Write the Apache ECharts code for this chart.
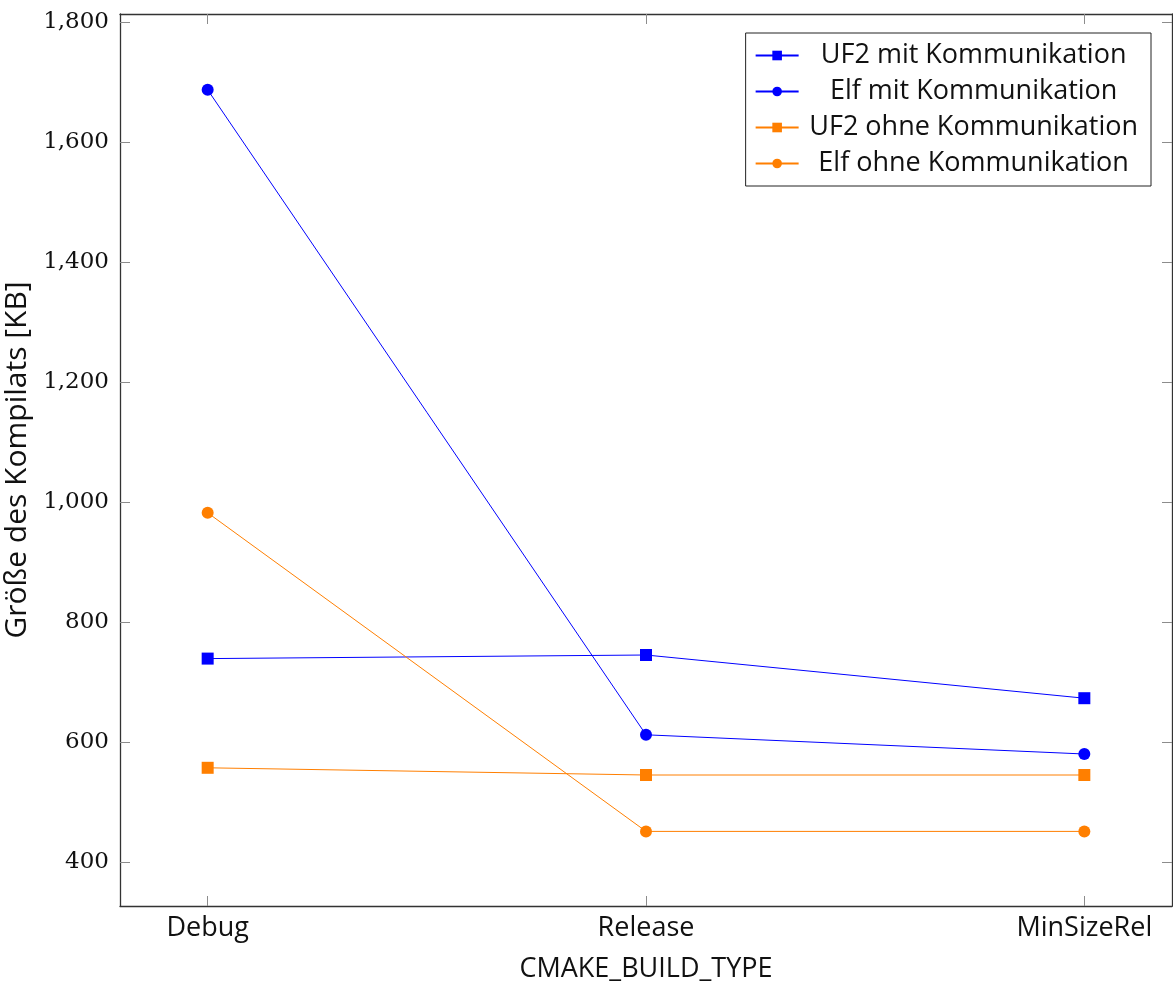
<!DOCTYPE html>
<html lang="de">
<head>
    <meta charset="UTF-8">
    <title>Kompilatgröße</title>
    <script src="https://cdn.jsdelivr.net/npm/echarts@6/dist/echarts.min.js"></script>
    <style>
        html, body {margin: 0; padding: 0; background: #fff;}
        #main {width: 1173px; height: 981px;}
    </style>
</head>
<body>
<div id="main"></div>
<script>
    // Daten
    var buildTypes = ['Debug', 'Release', 'MinSizeRel'];
    var uf2Mit = [739, 745, 673];
    var elfMit = [1687, 612, 580];
    var uf2Ohne = [557, 545, 545];
    var elfOhne = [982, 451, 451];
    var yTicks = [400, 600, 800, 1000, 1200, 1400, 1600, 1800];

    var blue = '#0000ff';
    var orange = '#ff7f00';
    var tickColor = '#8c8c8c';
    var sans = '"Open Sans", "Noto Sans", sans-serif';
    var serif = '"DejaVu Serif", "Liberation Serif", serif';

    function pairs(vals) {
        return vals.map(function (v, i) { return [i, v]; });
    }

    function fmt(v) {
        return String(v).replace(/\B(?=(\d{3})+(?!\d))/g, ',');
    }

    function mkSeries(name, vals, color, symbol) {
        return {
            name: name,
            type: 'line',
            data: pairs(vals),
            symbol: symbol,
            symbolSize: 12,
            showSymbol: true,
            lineStyle: {color: color, width: 1},
            itemStyle: {color: color},
            emphasis: {disabled: true},
            animation: false
        };
    }

    var xMin = -0.2, xMax = 2.2;
    var yMin = 400 - 44 / 0.6, yMax = 1800 + 8 / 0.6;

    function frameAxis(extra) {
        var base = {
            type: 'value',
            splitLine: {show: false},
            axisLine: {show: true, onZero: false, lineStyle: {color: '#333', width: 1.3}},
            axisTick: {show: true, inside: true, length: 10, lineStyle: {color: tickColor}},
            axisLabel: {show: false}
        };
        for (var k in extra) base[k] = extra[k];
        return base;
    }

    var myChart = echarts.init(document.getElementById('main'));
    var option = {
        animation: false,
        grid: {left: 120, right: 1, top: 14, bottom: 75, show: false, outerBoundsMode: 'none', containLabel: false},
        legend: {
            right: 22,
            top: 33,
            orient: 'vertical',
            itemWidth: 43,
            itemHeight: 12,
            itemGap: 9,
            padding: [9, 13, 9, 9],
            borderColor: '#222',
            borderWidth: 1,
            backgroundColor: '#fff',
            formatter: function (name) { return '{c|' + name + '}'; },
            textStyle: {
                fontFamily: sans, fontSize: 27, color: '#111',
                rich: {c: {fontFamily: sans, fontSize: 27, color: '#111', width: 340, align: 'center'}}
            },
            data: ['UF2 mit Kommunikation', 'Elf mit Kommunikation', 'UF2 ohne Kommunikation', 'Elf ohne Kommunikation']
        },
        xAxis: [frameAxis({
            min: xMin,
            max: xMax,
            position: 'bottom',
            name: 'CMAKE_BUILD_TYPE',
            nameLocation: 'middle',
            nameGap: 50,
            nameTextStyle: {fontFamily: sans, fontSize: 27, color: '#111'},
            axisTick: {show: true, inside: true, length: 10, customValues: [0, 1, 2], lineStyle: {color: tickColor}},
            axisLabel: {
                customValues: [0, 1, 2],
                fontFamily: sans, fontSize: 27, color: '#111', margin: 9,
                formatter: function (v) { return buildTypes[Math.round(v)]; }
            }
        }), frameAxis({
            min: xMin,
            max: xMax,
            position: 'top',
            axisTick: {show: true, inside: true, length: 10, customValues: [0, 1, 2], lineStyle: {color: tickColor}}
        })],
        yAxis: [frameAxis({
            min: yMin,
            max: yMax,
            position: 'left',
            name: 'Größe des Kompilats [KB]',
            nameLocation: 'middle',
            nameGap: 73,
            nameTextStyle: {fontFamily: sans, fontSize: 30, color: '#111'},
            axisTick: {show: true, inside: true, length: 10, customValues: yTicks, lineStyle: {color: tickColor}},
            axisLabel: {
                show: true,
                customValues: yTicks,
                fontFamily: serif, fontSize: 23, color: '#111', margin: 11,
                formatter: fmt
            }
        }), frameAxis({
            min: yMin,
            max: yMax,
            position: 'right',
            axisTick: {show: true, inside: true, length: 10, customValues: yTicks, lineStyle: {color: tickColor}}
        })],
        series: [
            mkSeries('UF2 mit Kommunikation', uf2Mit, blue, 'rect'),
            mkSeries('Elf mit Kommunikation', elfMit, blue, 'circle'),
            mkSeries('UF2 ohne Kommunikation', uf2Ohne, orange, 'rect'),
            mkSeries('Elf ohne Kommunikation', elfOhne, orange, 'circle')
        ]
    };
    myChart.setOption(option);
</script>
</body>
</html>
